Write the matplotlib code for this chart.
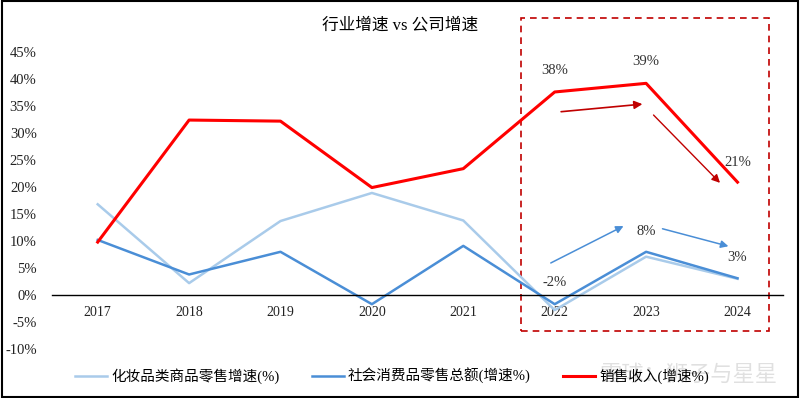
import numpy as np
import matplotlib.pyplot as plt
from matplotlib.patches import Rectangle

plt.rcParams['font.family'] = ['Liberation Serif', 'Noto Sans CJK SC', 'DejaVu Sans']

years = ['2017', '2018', '2019', '2020', '2021', '2022', '2023', '2024']
cosmetics = [16.8, 2.2, 13.7, 18.9, 13.8, -2.8, 7.1, 3.0]
retail = [10.2, 3.8, 8.0, -1.7, 9.1, -1.7, 8.0, 3.1]
company = [9.8, 32.4, 32.2, 19.9, 23.4, 37.6, 39.2, 20.9]

names = ['化妆品类商品零售增速(%)', '社会消费品零售总额(增速%)', '销售收入(增速%)']
yticks = [-10, -5, 0, 5, 10, 15, 20, 25, 30, 35, 40, 45]

# value labels in the highlighted box: (index, value text, y position)
red_labels = [(5, '38%', 41.5), (6, '39%', 43.2), (7, '21%', 24.6)]
blue_labels = [(5, '-2%', 2.4), (6, '8%', 11.7), (7, '3%', 6.9)]

fig = plt.figure(figsize=(8, 3.98), dpi=100)
ax = fig.add_axes([0.065, 0.1231, 0.914, 0.7462])

x = np.arange(len(years))
l1, = ax.plot(x, cosmetics, color='#A9CBEA', lw=1.8)
l2, = ax.plot(x, retail, color='#4A8ED6', lw=1.8)
l3, = ax.plot(x, company, color='#FF0000', lw=2.2)

ax.set_xlim(-0.5, 7.5)
ax.set_ylim(-10, 45)
ax.set_yticks(yticks)
ax.set_yticklabels([f'{v}%' for v in yticks], fontsize=10.5)
ax.set_xticks(x)
ax.set_xticklabels(years, fontsize=10.5)
ax.tick_params(length=0, colors='#222222')
ax.tick_params(axis='y', pad=11)
ax.tick_params(axis='x', pad=8)
for s in ['top', 'right', 'left']:
    ax.spines[s].set_visible(False)
ax.spines['bottom'].set_position(('data', 0))
ax.spines['bottom'].set_linewidth(1.0)

for i, t, yy in red_labels + blue_labels:
    ax.text(i, yy, t, ha='center', va='center', fontsize=10.5, color='#333333', clip_on=False)

# arrows
ax.annotate('', xy=(5.99, 35.4), xytext=(5.04, 33.9),
            arrowprops=dict(arrowstyle='-|>', color='#C00000', lw=1.2, mutation_scale=12))
ax.annotate('', xy=(6.83, 20.4), xytext=(6.06, 33.7),
            arrowprops=dict(arrowstyle='-|>', color='#C00000', lw=1.0, mutation_scale=12))
ax.annotate('', xy=(5.78, 13.0), xytext=(4.93, 5.7),
            arrowprops=dict(arrowstyle='-|>', color='#4A8ED6', lw=1.1, mutation_scale=11))
ax.annotate('', xy=(6.93, 8.9), xytext=(6.15, 12.4),
            arrowprops=dict(arrowstyle='-|>', color='#4A8ED6', lw=1.1, mutation_scale=11))

# dashed highlight box
ax.add_patch(Rectangle((4.633, -6.67), 2.714, 57.97, fill=False, ls=(0, (4, 3)),
                       ec='#C00000', lw=1.2, clip_on=False))

fig.text(0.5, 0.935, '行业增速 vs 公司增速', ha='center', va='center', fontsize=12)

fig.text(0.86, 0.055, '雪球：狮子与星星', ha='center', va='center', fontsize=16,
         color='#CCCCCC', alpha=0.6, zorder=0)

leg = fig.legend([l1, l2, l3], names, loc='center', bbox_to_anchor=(0.49, 0.055),
                 ncol=3, frameon=False, fontsize=10.5, handlelength=2.2,
                 columnspacing=2.2, handletextpad=0.3)

# outer frame
fig.add_artist(Rectangle((0.002, 0.003), 0.996, 0.994, transform=fig.transFigure,
                         fill=False, ec='black', lw=1.5))

fig.savefig('out.png', dpi=100)
